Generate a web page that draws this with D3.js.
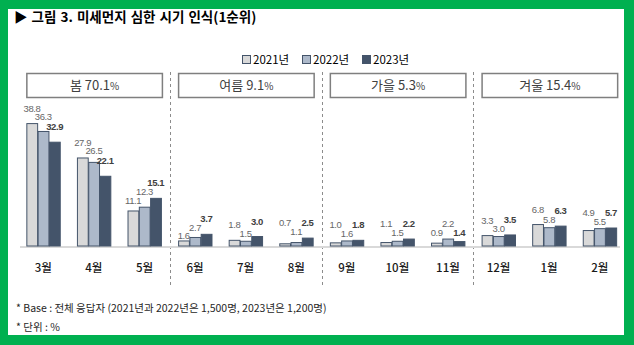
<!DOCTYPE html>
<html><head><meta charset="utf-8">
<script src="https://cdn.jsdelivr.net/npm/d3@7"></script>
<style>
html,body{margin:0;padding:0;background:#fff;}
svg{display:block;}
</style></head>
<body>
<svg id="c" width="634" height="345"></svg>
<script>
const months = ["3월","4월","5월","6월","7월","8월","9월","10월","11월","12월","1월","2월"];
const seriesNames = ["2021년","2022년","2023년"];
const s2021 = [38.8,27.9,11.1,1.6,1.8,0.7,1.0,1.1,0.9,3.3,6.8,4.9];
const s2022 = [36.3,26.5,12.3,2.7,1.5,1.1,1.6,1.5,2.2,3.0,5.8,5.5];
const s2023 = [32.9,22.1,15.1,3.7,3.0,2.5,1.8,2.2,1.4,3.5,6.3,5.7];
const seasonNames = ["봄","여름","가을","겨울"];
const seasonValues = [70.1,9.1,5.3,15.4];
const yMax = 40;

const series = [s2021, s2022, s2023];
const fills = ["#d9d9d9","#adb9ca","#44546a"];
const svg = d3.select("#c");
const KR = "'Noto Sans CJK KR','Noto Sans',sans-serif";

// frame
svg.append("rect").attr("width",634).attr("height",345).attr("fill","#00b050");
svg.append("rect").attr("x",8).attr("y",9).attr("width",616).attr("height",326).attr("fill","#fff");

// title
svg.append("text").attr("x",14).attr("y",21.5).attr("font-family",KR).attr("font-size",13.5)
  .attr("font-weight","bold").attr("fill","#000").attr("word-spacing",1)
  .text("▶ 그림 3. 미세먼지 심한 시기 인식(1순위)");

const x0 = d3.scaleBand().domain(months).range([18,625]).paddingInner(0.33).paddingOuter(0.165);
const x1 = d3.scaleBand().domain(seriesNames).range([0,x0.bandwidth()]);
const y = d3.scaleLinear().domain([0,yMax]).range([246,246-126.2]);
const step = x0.step();

// legend
const lg = svg.append("g");
const legX = [242,302,362];
seriesNames.forEach((n,i)=>{
  lg.append("rect").attr("x",legX[i]+0.5).attr("y",55.5).attr("width",8).attr("height",8)
    .attr("fill",fills[i]).attr("stroke","#44546a").attr("stroke-width",1);
  lg.append("text").attr("x",legX[i]+11).attr("y",63.5).attr("font-family",KR).attr("font-size",11.5)
    .attr("fill","#000").text(n);
});

// season boxes and separators
seasonNames.forEach((s,i)=>{
  const first = months[i*3], last = months[i*3+2];
  const bx0 = x0(first)+0.5, bx1 = x0(last)+x0.bandwidth()+1;
  svg.append("rect").attr("x",bx0).attr("y",73.5).attr("width",bx1-bx0).attr("height",24)
    .attr("fill","#fff").attr("stroke","#7f7f7f").attr("stroke-width",1.5);
  const t = svg.append("text").attr("x",(bx0+bx1)/2).attr("y",90).attr("text-anchor","middle")
    .attr("font-family",KR).attr("font-size",13).attr("fill","#404040");
  t.append("tspan").text(s+" "+seasonValues[i].toFixed(1));
  t.append("tspan").attr("font-size",10).text("%");
  if(i>0){
    const sx = Math.round(x0(first)-step*0.33/2)+0.5;
    svg.append("line").attr("x1",sx).attr("x2",sx).attr("y1",72).attr("y2",287)
      .attr("stroke","#8c8c8c").attr("stroke-width",1).attr("stroke-dasharray","3,3");
  }
});

// baseline
svg.append("line").attr("x1",20).attr("x2",620).attr("y1",247).attr("y2",247)
  .attr("stroke","#d9d9d9").attr("stroke-width",2);

// bars
const groups = svg.append("g").selectAll("g").data(months).join("g")
  .attr("transform",d=>`translate(${x0(d)},0)`);
groups.selectAll("rect").data((d,mi)=>series.map((s,si)=>({si,v:s[mi]}))).join("rect")
  .attr("x",d=>x1(seriesNames[d.si])+0.5)
  .attr("y",d=>y(d.v))
  .attr("width",x1.bandwidth()-0.5)
  .attr("height",d=>y(0)-y(d.v))
  .attr("fill",d=>fills[d.si])
  .attr("stroke","#44546a").attr("stroke-width",1);

// value labels with simple collision avoidance
const GAP=12, THR=8.5, MINGAP=1.5;
months.forEach((mo,mi)=>{
  const labs = series.map((s,si)=>({si,v:s[mi],cx:x0(mo)+x1(seriesNames[si])+x1.bandwidth()/2}));
  const order = labs.slice().sort((a,b)=>b.v-a.v || b.si-a.si);
  const placed=[];
  order.forEach(l=>{
    let b = y(l.v)-GAP;
    const adj = placed.filter(p=>Math.abs(p.si-l.si)===1);
    const conf = adj.filter(p=>Math.abs(p.b-b)<THR);
    if(conf.length){
      const down = d3.max(adj,p=>p.b)+THR;
      if(down<=y(l.v)-MINGAP && adj.every(p=>Math.abs(p.b-down)>=THR-0.01)) b=down;
      else b = d3.min(adj,p=>p.b)-THR;
    }
    l.b=b; placed.push(l);
  });
  labs.forEach(l=>{
    svg.append("text").attr("x",l.cx).attr("y",l.b).attr("text-anchor","middle")
      .attr("font-family","'Liberation Sans',Arial,sans-serif").attr("font-size",9.5)
      .attr("letter-spacing",-0.4)
      .attr("font-weight",l.si===2?"bold":"normal")
      .attr("fill",l.si===2?"#404040":"#666")
      .text(l.v.toFixed(1));
  });
});

// month labels
svg.append("g").selectAll("text").data(months).join("text")
  .attr("x",d=>x0(d)+x0.bandwidth()/2).attr("y",272).attr("text-anchor","middle")
  .attr("font-family",KR).attr("font-size",11.5).attr("font-weight",500)
  .attr("fill","#1a1a1a").text(d=>d);

// footnotes
svg.append("text").attr("x",16).attr("y",312).attr("font-family",KR).attr("font-size",10.5)
  .attr("fill","#262626").text("* Base : 전체 응답자 (2021년과 2022년은 1,500명, 2023년은 1,200명)");
svg.append("text").attr("x",16).attr("y",331).attr("font-family",KR).attr("font-size",10.5)
  .attr("fill","#262626").text("* 단위 : %");
</script>
</body></html>
